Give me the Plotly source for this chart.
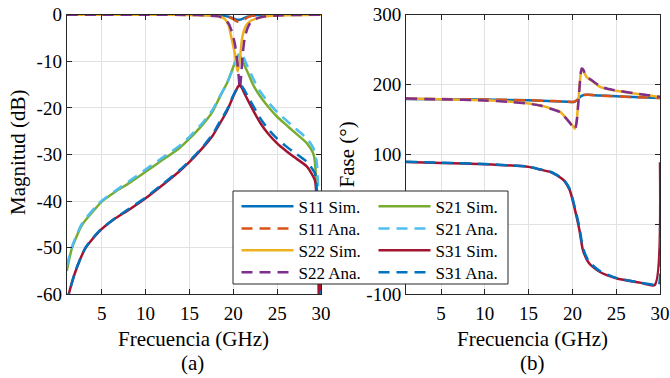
import plotly.graph_objects as go

W, H = 670, 378


def px_x(p):
    return p / W


def px_y(p):
    return 1 - p / H


# ---------------- data: magnitude (dB) ----------------
f_s11_mag = [1, 5, 10, 15, 17, 18, 19, 19.5, 20, 20.3, 20.6, 20.9, 21.2, 21.6, 22, 22.5, 23, 25, 30]
s11_sim_mag = [0, 0, 0, -0.02, -0.05, -0.1, -0.25, -0.45, -0.8, -1.0, -1.1, -1.0, -0.75, -0.45, -0.25, -0.12, -0.06, -0.02, 0]
s11_ana_mag = [0, 0, 0, -0.02, -0.05, -0.1, -0.3, -0.5, -0.95, -1.3, -1.5, -1.45, -1.1, -0.6, -0.3, -0.15, -0.07, -0.02, 0]

f_s22_sim_mag = [1, 5, 10, 15, 17, 18, 18.5, 19, 19.45, 19.8, 20.0, 20.2, 20.35, 20.5, 20.65, 20.8, 21.0, 21.2, 21.5, 22, 22.7, 23.5, 25, 30]
s22_sim_mag = [0, 0, 0, -0.05, -0.15, -0.3, -0.45, -0.9, -2.2, -5.1, -6.8, -8.6, -10.5, -12.2, -10.8, -8.6, -5.1, -3.5, -2.2, -1.3, -0.8, -0.4, -0.15, 0]
f_s22_ana_mag = [1, 5, 10, 15, 17, 18, 18.5, 19, 19.5, 19.9, 20.2, 20.45, 20.6, 20.75, 20.9, 21.05, 21.3, 21.6, 22, 22.7, 23.5, 25, 30]
s22_ana_mag = [0, 0, 0, -0.05, -0.15, -0.3, -0.45, -0.85, -2.0, -4.0, -6.5, -10, -13, -16, -13, -9, -5, -3, -1.6, -0.8, -0.4, -0.15, 0]

f_s21_sim_mag = [1, 1.6, 2.75, 4.27, 5, 6.55, 8.07, 10, 11.9, 13.8, 15, 16.45, 17.6, 18.55, 19.3, 20, 20.35, 20.6, 20.9, 21.3, 21.7, 22.3, 23.1, 24, 25, 26, 26.9, 28.4, 29.1, 29.3, 29.45, 29.55, 29.7, 30]
s21_sim_mag = [-55, -50.1, -45.1, -41.6, -40.1, -38, -36.2, -33.7, -31.2, -28.7, -26.6, -23.7, -20.9, -17.3, -14.6, -11.2, -9.4, -8.6, -9.2, -11.0, -12.6, -15.2, -17.6, -19.8, -21.9, -23.6, -25.1, -27.6, -29.7, -31.5, -36, -45, -55, -48]
f_s21_ana_mag = [1, 1.6, 2.75, 4.27, 5, 6.55, 8.07, 10, 11.9, 13.8, 15, 16.45, 17.6, 18.55, 19.3, 20, 20.4, 20.8, 21.1, 21.5, 21.9, 22.5, 23.1, 24, 25, 26, 26.9, 28.4, 29.1, 29.5, 29.65, 29.75, 29.85, 30]
s21_ana_mag = [-54.0, -49.8, -44.8, -41.3, -39.9, -37.8, -35.8, -33.2, -30.7, -28.2, -26.2, -23.3, -20.5, -17.2, -14.6, -11.3, -9.5, -8.3, -8.9, -10.6, -12.2, -14.6, -16.6, -18.8, -20.9, -22.6, -24.1, -26.6, -28.5, -31.5, -36, -45, -55, -50]

f_s31_mag = [1, 1.23, 2, 3.14, 4.66, 6.55, 8.07, 10, 11.9, 13.8, 15, 16.45, 17.7, 18.35, 19.3, 20, 20.4, 20.7, 21.0, 21.3, 21.7, 22.4, 23.1, 24, 25, 26, 26.9, 28.4, 29.3, 29.5, 29.65, 29.8, 30]
s31_sim_mag = [-62, -60, -55.1, -50.1, -46.6, -43.7, -41.9, -39.4, -36.6, -33.7, -31.6, -28.7, -25.8, -23.7, -20.6, -17.5, -15.9, -15.1, -15.8, -17.0, -18.5, -21.0, -23.3, -25.6, -27.6, -29.2, -30.5, -32.6, -35.5, -40, -50, -65, -50]
s31_ana_mag = [-62, -60, -55, -50, -46.5, -43.6, -41.7, -39.2, -36.4, -33.5, -31.4, -28.5, -25.5, -23.3, -20.3, -17.3, -15.9, -15.2, -15.4, -16.3, -17.7, -20.0, -22.3, -24.6, -26.6, -28.2, -29.5, -31.6, -34.0, -37, -42, -50, -60]

# ---------------- data: phase (deg) ----------------
f_s11_ph = [1, 5, 10, 15, 18, 19.5, 20.0, 20.3, 20.6, 20.9, 21.3, 21.8, 23, 25, 27, 30]
s11_sim_ph = [179.5, 179.2, 178.6, 177.5, 176.3, 175.3, 175.0, 175.8, 178.5, 182.5, 185.2, 185.5, 184.5, 183.3, 182.3, 180.9]
s11_ana_ph = [179.6, 179.3, 178.7, 177.6, 176.4, 175.5, 175.2, 176.0, 178.8, 182.8, 185.3, 185.4, 184.4, 183.2, 182.2, 180.8]

f_s22_ph = [1, 5, 10, 13, 15, 16.3, 17.5, 18.6, 19.0, 19.5, 19.9, 20.15, 20.3, 20.5, 20.7, 20.9, 21.05, 21.2, 21.6, 22.4, 23.1, 24, 25.4, 27.5, 30]
s22_sim_ph = [180, 179, 177.5, 175.5, 173, 170.4, 166, 161, 156, 149, 143, 139, 137, 150, 180, 210, 222, 221, 211, 203.7, 197, 193.5, 190.4, 186.5, 182.3]
s22_ana_ph = [180, 179, 177.3, 175.2, 172.7, 170, 165.5, 160.5, 155.5, 148.5, 142, 138, 136, 148, 178, 209, 223, 222, 212, 204.5, 198, 194, 190.8, 186.8, 182.5]

f_s31_sim_ph = [1, 5, 10, 15, 16.3, 17.5, 18.2, 18.5, 19, 19.7, 20.3, 20.8, 21.2, 21.9, 23.1, 25, 27.7, 29.4, 30]
s31_sim_ph = [89.4, 88, 86.1, 82.3, 78.5, 75, 70.4, 68, 63.3, 49, 20.4, -8, -36.7, -55.7, -67.7, -77, -83.3, -86.7, 89]
f_s31_ana_ph = [1, 5, 10, 15, 16.3, 17.5, 18.2, 18.5, 19, 19.7, 20.3, 20.8, 21.2, 21.9, 23.1, 25, 27.7, 29.4, 29.85, 30]
s31_ana_ph = [89.6, 88.2, 86.3, 82.5, 78.8, 75.3, 70.8, 68.5, 64, 50.5, 23, -4, -33.5, -53.5, -66.5, -76.5, -83.3, -86.5, -87.5, -5]

# ---------------- ticks ----------------
x_ticks = [5, 10, 15, 20, 25, 30]
y_mag_ticks = [0, -10, -20, -30, -40, -50, -60]
y_ph_ticks = [-100, 0, 100, 200, 300]

# ---------------- colours ----------------
C_BLUE = "#0072BD"
C_ORANGE = "#D95319"
C_YELLOW = "#EDB120"
C_PURPLE = "#7E2F8E"
C_GREEN = "#77AC30"
C_LBLUE = "#4DBEEE"
C_RED = "#A2142F"

FONT = "Liberation Serif, Times New Roman, serif"
DASH = "11px,7px"

fig = go.Figure()


def add(f, v, name, color, dash, xa, ya, legend, showlegend):
    fig.add_trace(go.Scatter(
        x=f, y=v, mode="lines", name=name,
        line=dict(color=color, width=2.5, dash=dash, shape="spline", smoothing=0.6),
        xaxis=xa, yaxis=ya, legend=legend, showlegend=showlegend, hoverinfo="skip"))


# magnitude subplot (each legend row is its own horizontal legend)
add(f_s11_mag, s11_sim_mag, "S11 Sim.", C_BLUE, "solid", "x", "y", "legend", True)
add(f_s11_mag, s11_ana_mag, "S11 Ana.", C_ORANGE, DASH, "x", "y", "legend2", True)
add(f_s21_sim_mag, s21_sim_mag, "S21 Sim.", C_GREEN, "solid", "x", "y", "legend", True)
add(f_s21_ana_mag, s21_ana_mag, "S21 Ana.", C_LBLUE, DASH, "x", "y", "legend2", True)
add(f_s22_sim_mag, s22_sim_mag, "S22 Sim.", C_YELLOW, "solid", "x", "y", "legend3", True)
add(f_s22_ana_mag, s22_ana_mag, "S22 Ana.", C_PURPLE, DASH, "x", "y", "legend4", True)
add(f_s31_mag, s31_sim_mag, "S31 Sim.", C_RED, "solid", "x", "y", "legend3", True)
add(f_s31_mag, s31_ana_mag, "S31 Ana.", C_BLUE, DASH, "x", "y", "legend4", True)

# phase subplot
add(f_s11_ph, s11_sim_ph, "S11 Sim.", C_BLUE, "solid", "x2", "y2", "legend", False)
add(f_s11_ph, s11_ana_ph, "S11 Ana.", C_ORANGE, DASH, "x2", "y2", "legend", False)
add(f_s22_ph, s22_sim_ph, "S22 Sim.", C_YELLOW, "solid", "x2", "y2", "legend", False)
add(f_s22_ph, s22_ana_ph, "S22 Ana.", C_PURPLE, DASH, "x2", "y2", "legend", False)
add(f_s31_sim_ph, s31_sim_ph, "S31 Sim.", C_RED, "solid", "x2", "y2", "legend", False)
add(f_s31_ana_ph, s31_ana_ph, "S31 Ana.", C_BLUE, DASH, "x2", "y2", "legend", False)

axis_common = dict(
    showline=True, linecolor="#262626", linewidth=1, mirror="ticks",
    ticks="inside", ticklen=5, tickcolor="#262626", tickwidth=1,
    showgrid=True, gridcolor="#e2e2e2", gridwidth=1, zeroline=False,
    automargin=False,
    tickfont=dict(family=FONT, size=19, color="black"),
)

y_dom = [px_y(294.3), px_y(14.7)]


def row_legend(yc):
    return dict(orientation="h", x=px_x(236.5), y=px_y(yc), xanchor="left", yanchor="middle",
                bgcolor="rgba(0,0,0,0)", borderwidth=0, entrywidthmode="pixels", entrywidth=70,
                itemwidth=52, font=dict(family=FONT, size=17, color="black"))


fig.update_layout(
    width=W, height=H,
    margin=dict(l=0, r=0, t=0, b=0, autoexpand=False),
    paper_bgcolor="white", plot_bgcolor="white",
    showlegend=True,
    xaxis=dict(domain=[px_x(66.7), px_x(321)], range=[1, 30], anchor="y", ticklabelstandoff=2,
               tickvals=x_ticks, ticktext=[str(t) for t in x_ticks], **axis_common),
    yaxis=dict(domain=y_dom, range=[-60, 0], anchor="x",
               tickvals=y_mag_ticks, ticktext=[str(t) for t in y_mag_ticks], **axis_common),
    xaxis2=dict(domain=[px_x(406), px_x(660)], range=[1, 30], anchor="y2", ticklabelstandoff=2,
                tickvals=x_ticks, ticktext=[str(t) for t in x_ticks], **axis_common),
    yaxis2=dict(domain=y_dom, range=[-100, 300], anchor="x2",
                tickvals=y_ph_ticks, ticktext=[str(t) for t in y_ph_ticks], **axis_common),
    legend=row_legend(206.7),
    legend2=row_legend(229),
    legend3=row_legend(250.7),
    legend4=row_legend(272.7),
    shapes=[dict(type="rect", xref="paper", yref="paper",
                 x0=px_x(233), x1=px_x(508), y0=px_y(284), y1=px_y(191),
                 fillcolor="white", line=dict(color="#262626", width=1), layer="above")],
    annotations=[
        dict(text="Magnitud (dB)", x=px_x(18), y=px_y(153), xref="paper", yref="paper",
             textangle=-90, showarrow=False, xanchor="center", yanchor="middle",
             font=dict(family=FONT, size=21, color="black")),
        dict(text="Fase (°)", x=px_x(346), y=px_y(154.5), xref="paper", yref="paper",
             textangle=-90, showarrow=False, xanchor="center", yanchor="middle",
             font=dict(family=FONT, size=21, color="black")),
        dict(text="Frecuencia (GHz)", x=px_x(193.3), y=px_y(339), xref="paper", yref="paper",
             showarrow=False, xanchor="center", yanchor="middle",
             font=dict(family=FONT, size=21, color="black")),
        dict(text="(a)", x=px_x(193), y=px_y(362.7), xref="paper", yref="paper",
             showarrow=False, xanchor="center", yanchor="middle",
             font=dict(family=FONT, size=21, color="black")),
        dict(text="Frecuencia (GHz)", x=px_x(532.5), y=px_y(339), xref="paper", yref="paper",
             showarrow=False, xanchor="center", yanchor="middle",
             font=dict(family=FONT, size=21, color="black")),
        dict(text="(b)", x=px_x(532), y=px_y(362.7), xref="paper", yref="paper",
             showarrow=False, xanchor="center", yanchor="middle",
             font=dict(family=FONT, size=21, color="black")),
    ],
)

fig.write_html("out.html", config={"displayModeBar": False},
               post_script="document.body.style.margin='0';document.body.style.overflow='hidden';")
